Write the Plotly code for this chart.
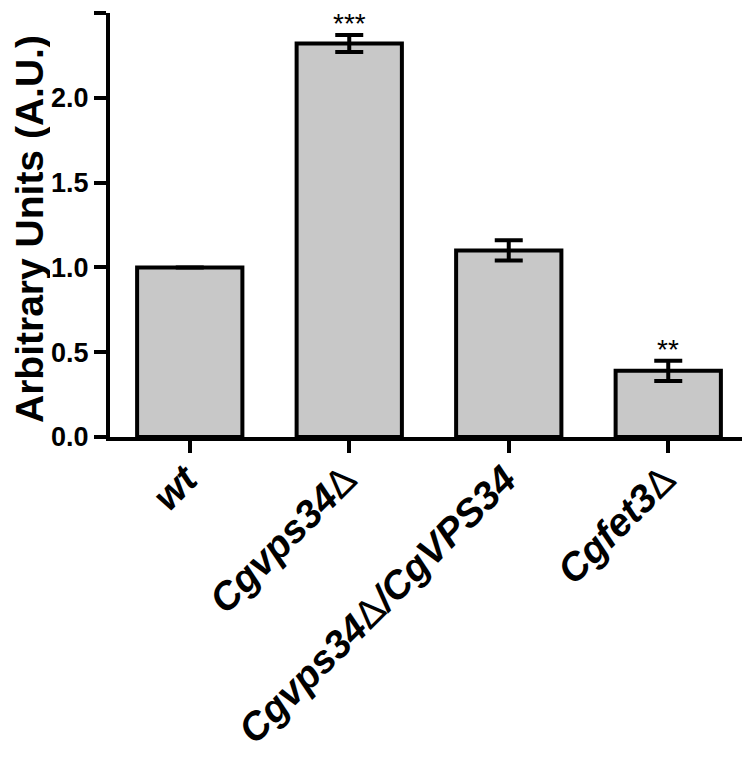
import plotly.graph_objects as go

categories = ["wt", "Cgvps34Δ", "Cgvps34Δ/CgVPS34", "Cgfet3Δ"]
values = [1.00, 2.32, 1.10, 0.39]
errors = [0.0, 0.05, 0.06, 0.06]
significance = ["", "***", "", "**"]
y_ticks = [0.0, 0.5, 1.0, 1.5, 2.0, 2.5]

FONT = "Liberation Sans, Arial, sans-serif"

def fmt_label(s):
    parts = s.split("Δ")
    out = "<span style='font-weight:normal;font-style:normal'>Δ</span>".join(
        f"<b><i>{p}</i></b>" if p else "" for p in parts)
    return out

tick_text = [fmt_label(c) for c in categories]

fig = go.Figure()
fig.add_trace(go.Bar(
    x=categories,
    y=values,
    marker=dict(color="#c8c8c8", line=dict(color="black", width=4)),
    error_y=dict(type="data", array=errors, visible=True,
                 color="black", thickness=4, width=14),
    width=0.66,
))

for c, v, e, s in zip(categories, values, errors, significance):
    if s:
        fig.add_annotation(x=c, y=v + e, text=s, showarrow=False,
                           yanchor="bottom", yshift=-6,
                           font=dict(family=FONT, size=28, color="black"))

# y-axis title as a rotated annotation
fig.add_annotation(xref="paper", yref="paper", x=0, y=0.5,
                   xshift=-81, yshift=-4, xanchor="center", yanchor="middle",
                   textangle=-90, showarrow=False, height=42,
                   text="<b>Arbitrary Units (A.U.)</b>",
                   font=dict(family=FONT, size=39, color="black"))

fig.update_layout(
    width=750, height=760,
    margin=dict(l=102, r=10, t=5, b=331),
    plot_bgcolor="white", paper_bgcolor="white",
    showlegend=False,
    font=dict(family=FONT, color="black"),
)
fig.update_xaxes(
    range=[-0.5, 3.5],
    tickmode="array", tickvals=categories, ticktext=tick_text,
    tickangle=-45,
    tickfont=dict(family=FONT, size=39, color="black"),
    ticklabelstandoff=-12, ticklabelshift=-4,
    showline=True, linecolor="black", linewidth=4,
    ticks="outside", ticklen=12, tickwidth=4, tickcolor="black",
    showgrid=False, zeroline=False, automargin=False,
)
fig.update_yaxes(
    range=[0, 2.5],
    tickmode="array", tickvals=y_ticks,
    ticktext=[f"{t:.1f}" for t in y_ticks],
    tickfont=dict(family=FONT, size=27, color="black", weight="bold"),
    showline=True, linecolor="black", linewidth=4,
    ticks="outside", ticklen=12, tickwidth=4, tickcolor="black",
    showgrid=False, zeroline=False, automargin=False,
)

fig.write_html("out.html")
